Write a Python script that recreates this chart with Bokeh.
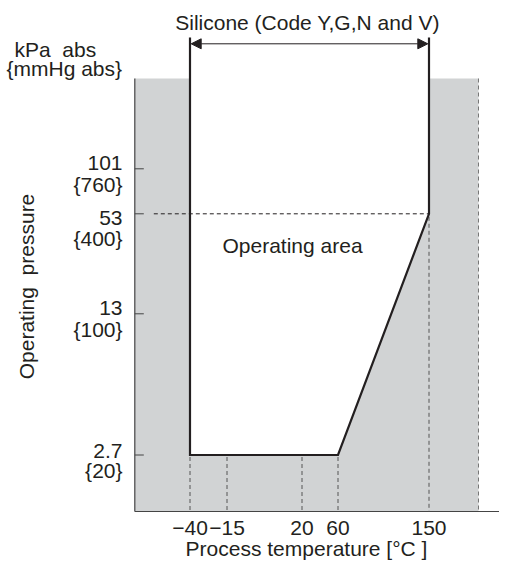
import numpy as np
from bokeh.plotting import figure
from bokeh.models import Range1d, Arrow, NormalHead
from bokeh.core.properties import value
from bokeh.embed import file_html
from bokeh.resources import INLINE

# ---------------- data ----------------
title_text = "Silicone (Code Y,G,N and V)"
x_title = "Process temperature [°C ]"
y_title = "Operating \u00a0pressure"
unit_kpa = "kPa \u00a0abs"
unit_mmhg = "{mmHg abs}"
area_label = "Operating area"

temps = [-40, -15, 20, 60, 150]
temp_labels = ["\u221240", "\u221215", "20", "60", "150"]
pressures = [101, 53, 13, 2.7]
kpa_labels = ["101", "53", "13", "2.7"]
mmhg_labels = ["{760}", "{400}", "{100}", "{20}"]

# operating boundary (temperature, pressure); None = open to the top
boundary_t = [-40, -40, 60, 150, 150]
boundary_p = [None, 2.7, 2.7, 53, None]

# ------------- schematic layout (non-linear axes, picture pixels) -------------
T_POS = {-40: 189.5, -15: 226.5, 20: 301.5, 60: 337.5, 150: 428.5}
P_POS = {101: 168.3, 53: 213.3, 13: 313.3, 2.7: 454.5}
KPA_BASE = {101: 169.5, 53: 224, 13: 314.5, 2.7: 457}
MMHG_BASE = {101: 191, 53: 244.5, 13: 335.5, 2.7: 477}
X_AXIS_LEFT, X_AXIS_RIGHT, X_AXIS_Y = 134.3, 520, 511
PLOT_TOP = 78
GRAY_RIGHT = 478
LINE_TOP = 37
ARROW_Y = 43.3
TICK_LEN = 9
DY = -7  # svg text baseline correction

def tx(t):
    return T_POS[t]

def py(p):
    return LINE_TOP if p is None else P_POS[p]

FONT = value("Liberation Sans")
FS = "21px"
INK = "#231f20"
GRAY = "#d1d3d4"
DASH_C = "#555555"

p = figure(width=499, height=560, output_backend="svg", toolbar_location=None,
           x_range=Range1d(0, 499), y_range=Range1d(560, 0),
           x_axis_location=None, y_axis_location=None, min_border=0,
           outline_line_color=None)
p.grid.visible = False

# gray (non-operating) region with the operating polygon cut out
bx = [tx(t) for t in boundary_t]
by = [PLOT_TOP if v is None else py(v) for v in boundary_p]
outer_x = [X_AXIS_LEFT, GRAY_RIGHT, GRAY_RIGHT, X_AXIS_LEFT]
outer_y = [PLOT_TOP, PLOT_TOP, X_AXIS_Y, X_AXIS_Y]
p.multi_polygons(xs=[[[outer_x, bx]]], ys=[[[outer_y, by]]],
                 fill_color=GRAY, line_color=None)

# axes lines
p.segment(x0=[X_AXIS_LEFT], y0=[PLOT_TOP], x1=[X_AXIS_LEFT], y1=[X_AXIS_Y],
          line_color="#444444", line_width=1.2)
p.segment(x0=[X_AXIS_LEFT], y0=[X_AXIS_Y], x1=[X_AXIS_RIGHT], y1=[X_AXIS_Y],
          line_color="#444444", line_width=1.2)

# y ticks (pointing inward)
yt = [P_POS[v] for v in pressures]
p.segment(x0=[X_AXIS_LEFT] * len(yt), y0=yt, x1=[X_AXIS_LEFT + TICK_LEN] * len(yt), y1=yt,
          line_color="#444444", line_width=1)

# dashed guides
low_t = [-40, -15, 20, 60]
p.segment(x0=[tx(t) for t in low_t], y0=[P_POS[2.7] + 2] * len(low_t),
          x1=[tx(t) for t in low_t], y1=[X_AXIS_Y] * len(low_t),
          line_color=DASH_C, line_width=1, line_dash="4 3")
p.segment(x0=[tx(150)], y0=[P_POS[53] + 3], x1=[tx(150)], y1=[X_AXIS_Y],
          line_color=DASH_C, line_width=1, line_dash="4 3")
p.segment(x0=[GRAY_RIGHT], y0=[PLOT_TOP], x1=[GRAY_RIGHT], y1=[X_AXIS_Y],
          line_color="#777777", line_width=1, line_dash="4 3")
p.segment(x0=[X_AXIS_LEFT + 19], y0=[P_POS[53]], x1=[tx(150)], y1=[P_POS[53]],
          line_color=INK, line_width=1, line_dash="4 3")

# operating boundary
p.line(x=[tx(t) for t in boundary_t], y=[py(v) for v in boundary_p],
       line_color=INK, line_width=2.2, line_join="miter")

# range arrow
p.add_layout(Arrow(start=NormalHead(size=10, fill_color=INK, line_color=INK, line_width=1),
                   end=NormalHead(size=10, fill_color=INK, line_color=INK, line_width=1),
                   x_start=tx(-40) + 1.2, y_start=ARROW_Y, x_end=tx(150) - 1.2, y_end=ARROW_Y,
                   line_color=INK, line_width=1))

# texts
p.text(x=[(tx(-40) + tx(150)) / 2 - 2], y=[28.5 + DY], text=[title_text], text_font=FONT,
       text_font_size=FS, text_color=INK, text_align="center", text_baseline="alphabetic")
p.text(x=[14], y=[55.5 + DY], text=[unit_kpa], text_font=FONT, text_font_size=FS,
       text_color=INK, text_align="left", text_baseline="alphabetic")
p.text(x=[6], y=[74.5 + DY], text=[unit_mmhg], text_font=FONT, text_font_size=FS,
       text_color=INK, text_align="left", text_baseline="alphabetic")

p.text(x=[122] * len(pressures), y=[KPA_BASE[v] + DY for v in pressures], text=kpa_labels,
       text_font=FONT, text_font_size=FS, text_color=INK, text_align="right",
       text_baseline="alphabetic")
p.text(x=[122] * len(pressures), y=[MMHG_BASE[v] + DY for v in pressures], text=mmhg_labels,
       text_font=FONT, text_font_size=FS, text_color=INK, text_align="right",
       text_baseline="alphabetic")

p.text(x=[tx(t) for t in temps], y=[534 + DY] * len(temps), text=temp_labels,
       text_font=FONT, text_font_size=FS, text_color=INK, text_align="center",
       text_baseline="alphabetic")

p.text(x=[306], y=[555 + DY], text=[x_title], text_font=FONT, text_font_size=FS,
       text_color=INK, text_align="center", text_baseline="alphabetic")
p.text(x=[33 + DY], y=[286], text=[y_title], angle=[np.pi / 2], text_font=FONT,
       text_font_size=FS, text_color=INK, text_align="center", text_baseline="alphabetic")

p.text(x=[222], y=[251.5 + DY], text=[area_label], text_font=FONT, text_font_size=FS,
       text_color=INK, text_align="left", text_baseline="alphabetic")

open("out.html", "w").write(file_html(p, INLINE))
